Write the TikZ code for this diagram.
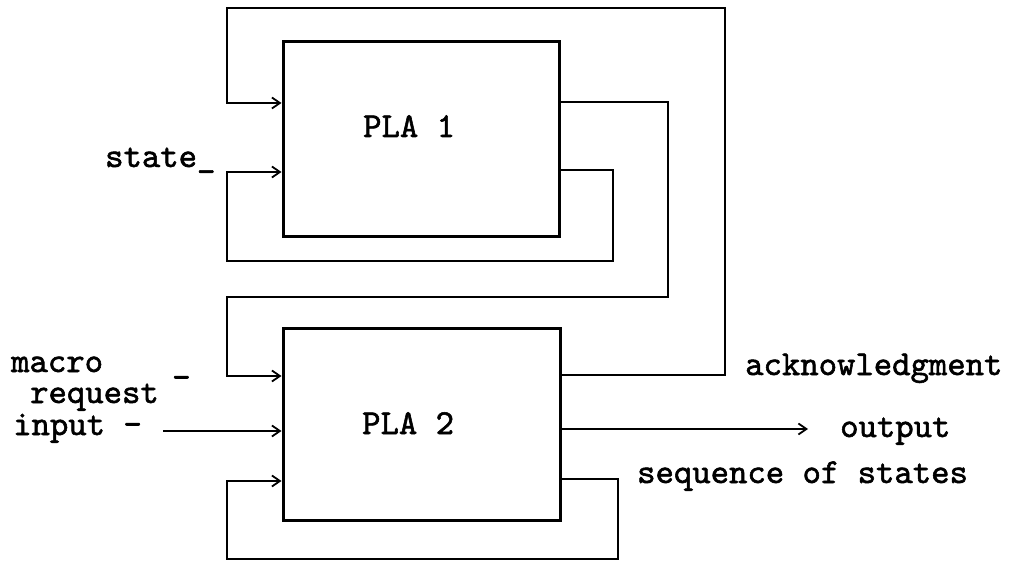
\documentclass[tikz,border=0pt]{standalone}
\usepackage{fontspec}
\newfontfamily\twfont{lmmono10-regular.otf}[FakeBold=1.6]
\usetikzlibrary{arrows.meta}
\begin{document}
\begin{tikzpicture}[x=1pt,y=-1pt,
  box/.style={draw, line width=3pt, inner sep=0pt, rectangle},
  conn/.style={draw, line width=1.8pt, line join=miter},
  arr/.style={conn, -{Straight Barb[length=8pt,width=11pt,line width=1.8pt]}},
  lbl/.style={font=\twfont\fontsize{35}{40}\selectfont, inner sep=0pt, anchor=base west}]
\useasboundingbox (0,0) rectangle (1021,564);
\fill[white] (0,0) rectangle (1021,564);
% boxes
\node[box, minimum width=276pt, minimum height=195pt] (pla1) at (421,139.5) {};
\node[box, minimum width=277pt, minimum height=191pt] (pla2) at (421.5,424.5) {};
\node[lbl] (t1) at (363,137) {PLA 1};
\node[lbl] (t2) at (362,434) {PLA 2};
% free ends
\coordinate (in) at (163,431);
\coordinate (out) at (808,429);
% outer loop: PLA2 acknowledgment -> PLA1
\draw[arr] (pla2.east |- 0,375) -- (725,375) -- (725,8) -- (227,8) -- (227,103) -- (pla1.west |- 0,103);
% middle loop: PLA1 -> PLA2
\draw[arr] (pla1.east |- 0,102) -- (668,102) -- (668,297) -- (227,297) -- (227,376) -- (pla2.west |- 0,376);
% inner loop PLA1 state
\draw[arr] (pla1.east |- 0,170) -- (613,170) -- (613,261) -- (227,261) -- (227,172) -- (pla1.west |- 0,172);
% bottom loop PLA2 sequence of states
\draw[arr] (pla2.east |- 0,479) -- (618,479) -- (618,559) -- (227,559) -- (227,481) -- (pla2.west |- 0,481);
% input and output
\draw[arr] (in) -- (pla2.west |- in);
\draw[arr] (pla2.east |- out) -- (out);
% labels
\node[lbl] (state) at (105,167) {state\_};
\node[lbl] (macro) at (11,372) {macro};
\node[lbl] (request) at (30,403) {request};
\node[lbl] (input) at (13,435) {input -};
\node[lbl] (mdash) at (172,388) {-};
\node[lbl] (ack) at (745,375) {acknowledgment};
\node[lbl] (output) at (840,437) {output};
\node[lbl] (seq) at (637,483) {sequence of states};
\end{tikzpicture}
\end{document}
